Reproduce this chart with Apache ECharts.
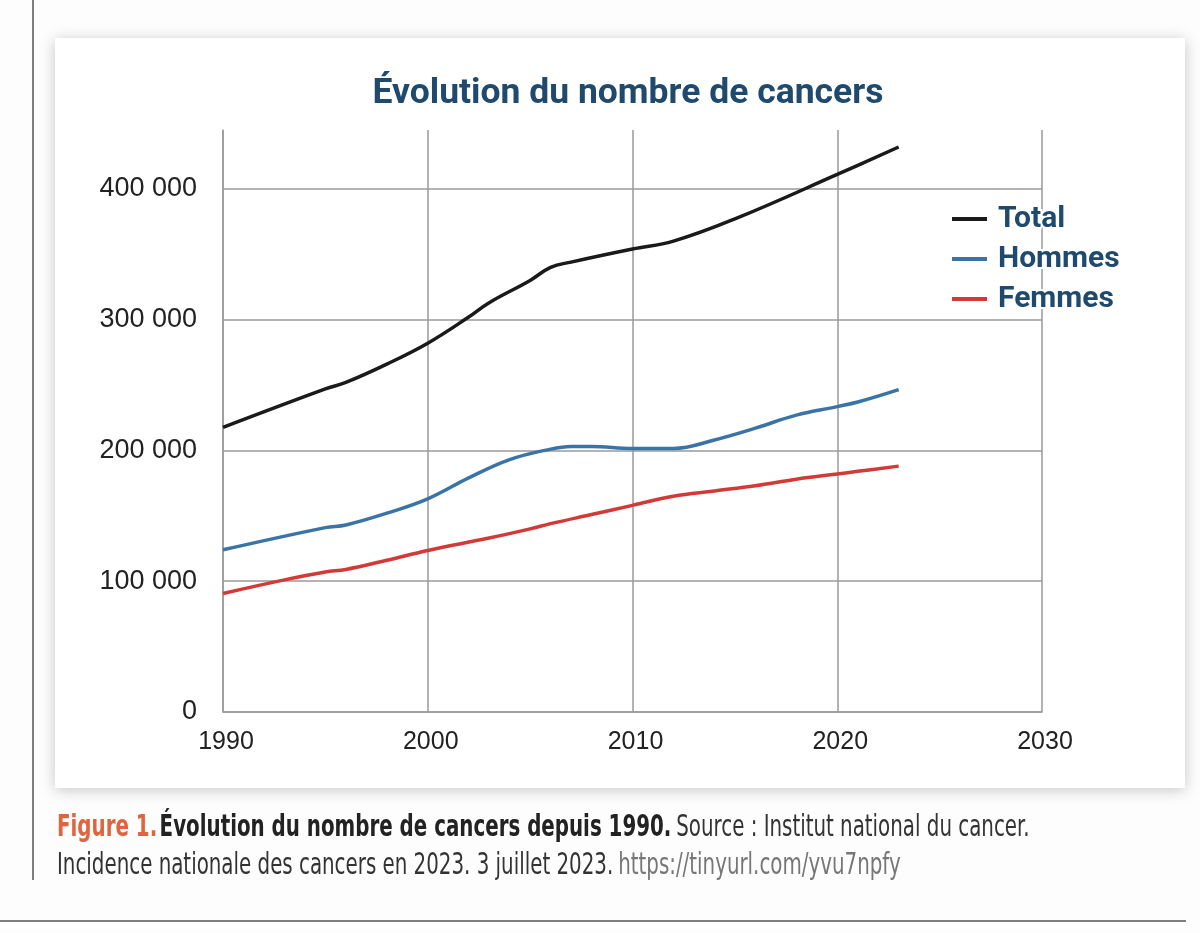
<!DOCTYPE html>
<html><head><meta charset="utf-8">
<script src="https://cdn.jsdelivr.net/npm/echarts@6/dist/echarts.min.js"></script>
<style>html,body{margin:0;padding:0;background:#fdfdfd}#c{width:1200px;height:933px}</style>
</head><body><div id="c"></div>
<script>
const years_total = [1990, 1995, 1996, 1998, 2000, 2002, 2003, 2005, 2006, 2007, 2010, 2012, 2015, 2020, 2023];
const total =       [217600, 247000, 252000, 266000, 282000, 302000, 313000, 330000, 340000, 344000, 354000, 360000, 377000, 411000, 432000];
const years_hommes = [1990, 1995, 1996, 1998, 2000, 2002, 2004, 2006, 2007, 2008, 2010, 2012, 2014, 2016, 2018, 2020, 2021, 2023];
const hommes =       [124000, 141000, 143000, 152000, 163000, 179000, 193000, 201000, 203000, 203000, 201500, 201500, 208000, 217000, 227000, 233500, 237000, 246500];
const years_femmes = [1990, 1993, 1995, 1996, 1998, 2000, 2003, 2005, 2006, 2008, 2010, 2012, 2014, 2016, 2018, 2020, 2021, 2023];
const femmes =       [90600, 101000, 107000, 109000, 116000, 123500, 133000, 140000, 144000, 151000, 158000, 165000, 169000, 173000, 178000, 182000, 184000, 188000];
const seriesNames = ['Total', 'Hommes', 'Femmes'];
const xTicks = [1990, 2000, 2010, 2020, 2030];
const yTicks = [0, 100000, 200000, 300000, 400000];

const pair = (xs, ys) => xs.map((x, i) => [x, ys[i]]);
const fmt = v => v === 0 ? '0' : String(v).replace(/\B(?=(\d{3})+(?!\d))/g, ' ');
const chart = echarts.init(document.getElementById('c'));
const lineW = 3.5;
const capFont = 'DejaVu Sans Condensed, Liberation Sans Narrow, sans-serif';
chart.setOption({
  backgroundColor: '#fdfdfd',
  animation: false,
  title: {
    text: 'Évolution du nombre de cancers',
    left: 623, top: 71, textAlign: 'center',
    textStyle: {fontFamily: 'Roboto', fontWeight: 'bold', fontSize: 35.5, color: '#1f4a6e'}
  },
  legend: {
    orient: 'vertical', left: 947, top: 197, itemGap: 6,
    icon: 'rect', itemWidth: 35, itemHeight: 4,
    data: seriesNames,
    textStyle: {fontFamily: 'Roboto', fontWeight: 'bold', fontSize: 30, color: '#1f4a6e',
      textBorderColor: '#fff', textBorderWidth: 4, padding: [0, 0, 0, 6]}
  },
  grid: {left: 223, right: 158, top: 130, bottom: 221},
  xAxis: {
    type: 'value', min: 1990, max: 2030, interval: 10,
    axisLine: {show: true, lineStyle: {color: '#9a9a9a', width: 1.5}},
    axisTick: {show: false},
    axisLabel: {fontFamily: 'Liberation Sans', fontSize: 25, color: '#222', margin: 18,
      padding: [0, 0, 0, 6], formatter: v => xTicks.includes(v) ? String(v) : ''},
    splitLine: {show: true, lineStyle: {color: '#9a9a9a', width: 1.5}}
  },
  yAxis: {
    type: 'value', min: 0, max: 445000, interval: 100000,
    axisLine: {show: true, lineStyle: {color: '#9a9a9a', width: 1.5}},
    axisTick: {show: false},
    axisLabel: {fontFamily: 'Liberation Sans', fontSize: 27, color: '#222', margin: 26,
      showMaxLabel: false, formatter: v => yTicks.includes(v) ? fmt(v) : ''},
    splitLine: {show: true, showMaxLine: false, lineStyle: {color: '#9a9a9a', width: 1.5}}
  },
  series: [
    {name: 'Total', type: 'line', smooth: 0.4, showSymbol: false, symbol: 'none', data: pair(years_total, total),
     lineStyle: {color: '#1a1a1a', width: lineW}, itemStyle: {color: '#1a1a1a'}},
    {name: 'Hommes', type: 'line', smooth: 0.4, showSymbol: false, symbol: 'none', data: pair(years_hommes, hommes),
     lineStyle: {color: '#3a74a6', width: lineW}, itemStyle: {color: '#3a74a6'}},
    {name: 'Femmes', type: 'line', smooth: 0.4, showSymbol: false, symbol: 'none', data: pair(years_femmes, femmes),
     lineStyle: {color: '#d13a36', width: lineW}, itemStyle: {color: '#d13a36'}}
  ],
  graphic: [
    {type: 'rect', z: -10, shape: {x: 55, y: 38, width: 1130, height: 750},
     style: {fill: '#ffffff', shadowBlur: 14, shadowColor: 'rgba(0,0,0,0.22)', shadowOffsetY: 2}},
    {type: 'line', z: -10, shape: {x1: 33, y1: 0, x2: 33, y2: 880}, style: {stroke: '#555', lineWidth: 1.5}},
    {type: 'line', z: -10, shape: {x1: 0, y1: 921, x2: 1186, y2: 921}, style: {stroke: '#555', lineWidth: 1.5}},
    {type: 'text', x: 57, y: 828, scaleX: 0.735, style: {
      x: 0, y: 0, verticalAlign: 'middle',
      text: '{a|Figure 1.} {b|Évolution du nombre de cancers depuis 1990.}  {c|Source : Institut national du cancer.}',
      rich: {
        a: {fontFamily: capFont, fontWeight: 'bold', fontSize: 30, fill: '#e0643e'},
        b: {fontFamily: capFont, fontWeight: 'bold', fontSize: 30, fill: '#222'},
        c: {fontFamily: capFont, fontSize: 30, fill: '#333'}
      }}},
    {type: 'text', x: 57, y: 866, scaleX: 0.735, style: {
      x: 0, y: 0, verticalAlign: 'middle',
      text: '{c|Incidence nationale des cancers en 2023. 3 juillet 2023.}  {d|https://tinyurl.com/yvu7npfy}',
      rich: {
        c: {fontFamily: capFont, fontSize: 30, fill: '#333'},
        d: {fontFamily: capFont, fontSize: 30, fill: '#777'}
      }}}
  ]
});
</script></body></html>
